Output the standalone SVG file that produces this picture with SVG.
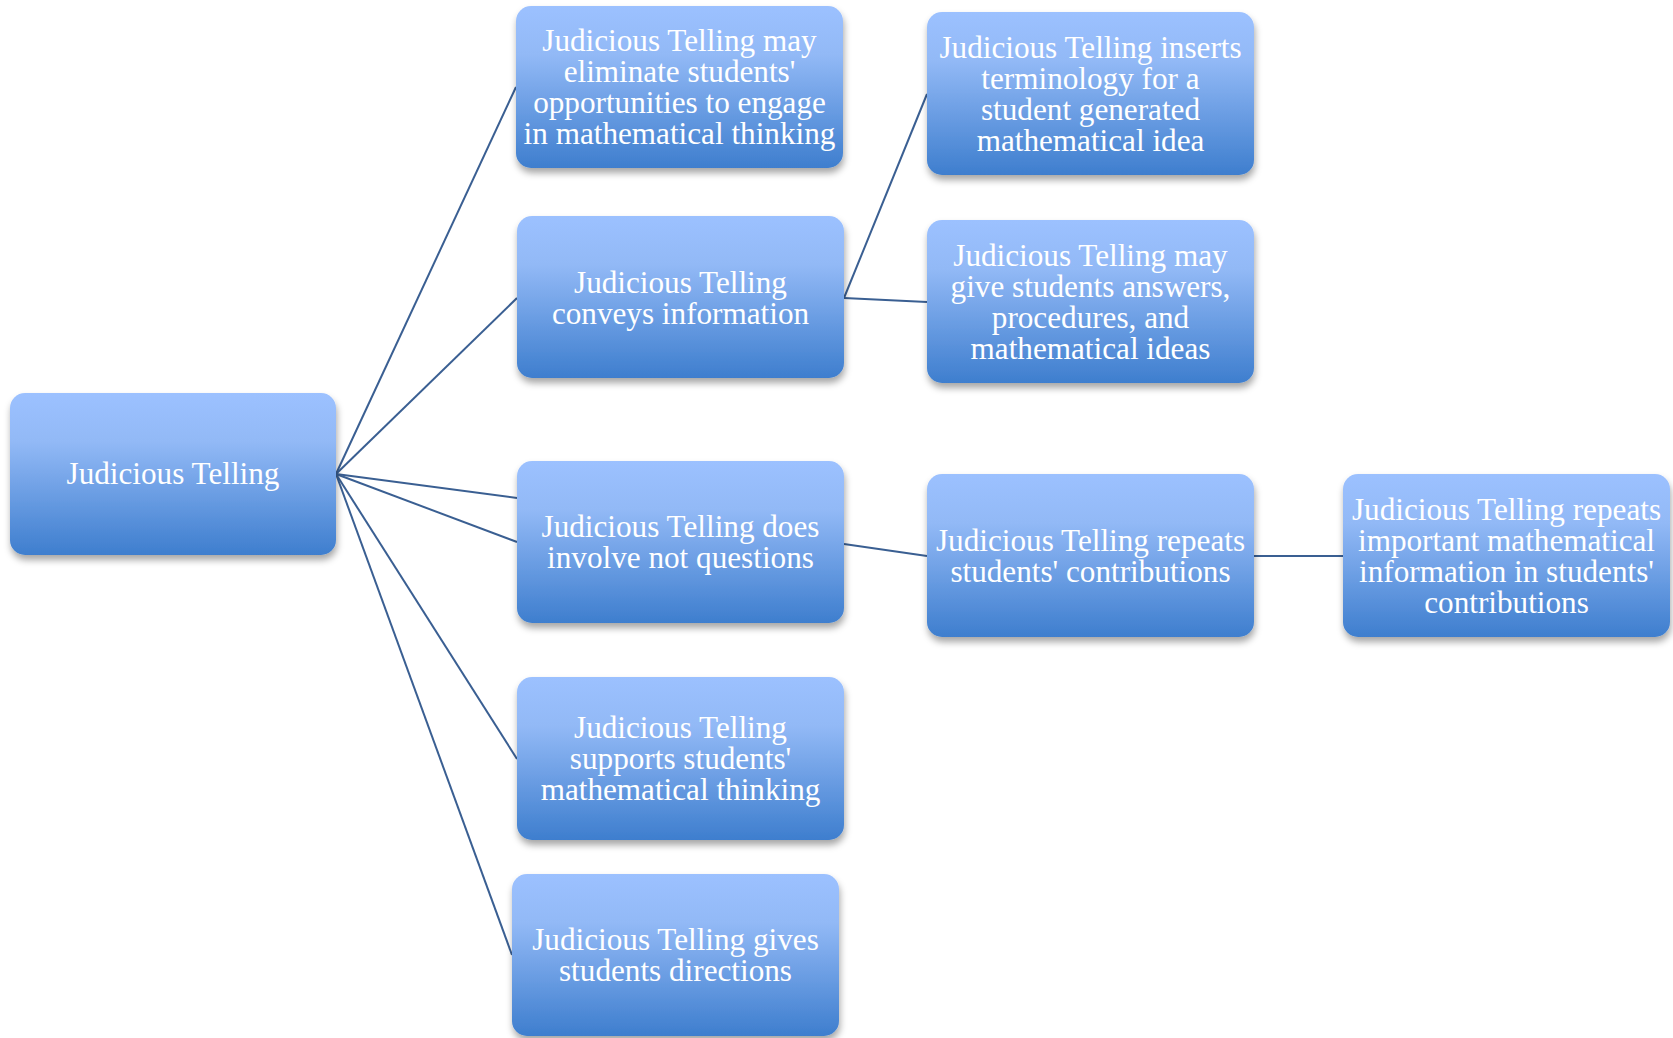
<svg xmlns="http://www.w3.org/2000/svg" width="1673" height="1038" viewBox="0 0 1673 1038">
  <defs>
    <linearGradient id="boxFill" x1="0" y1="0" x2="0" y2="1">
      <stop offset="0" stop-color="#9CC1FF"/>
      <stop offset="0.3" stop-color="#92B9F6"/>
      <stop offset="1" stop-color="#3E7ECE"/>
    </linearGradient>
    <filter id="shadow" x="-10%" y="-10%" width="125%" height="130%">
      <feDropShadow dx="1" dy="5" stdDeviation="3.5" flood-color="#000" flood-opacity="0.35"/>
    </filter>
  </defs>
  <style>
    .box { fill: url(#boxFill); filter: url(#shadow); }
    .label { font-family: "Liberation Serif", "DejaVu Serif", serif; font-size: 31.2px; fill: #FFFFFF; text-anchor: middle; }
    .link { stroke: #3A5F92; stroke-width: 2; fill: none; }
  </style>
  <rect width="1673" height="1038" fill="#FFFFFF"/>

  <!-- connectors -->
  <g id="connectors">
    <line class="link" x1="336" y1="474" x2="516" y2="87"/>
    <line class="link" x1="336" y1="474" x2="517" y2="298"/>
    <line class="link" x1="336" y1="474" x2="517" y2="498"/>
    <line class="link" x1="336" y1="474" x2="517" y2="542"/>
    <line class="link" x1="336" y1="474" x2="517" y2="759"/>
    <line class="link" x1="336" y1="474" x2="512" y2="955"/>
    <line class="link" x1="844" y1="298" x2="927" y2="94"/>
    <line class="link" x1="844" y1="298" x2="927" y2="302"/>
    <line class="link" x1="844" y1="544" x2="927" y2="556"/>
    <line class="link" x1="1254" y1="556" x2="1343" y2="556"/>
  </g>

  <!-- root -->
  <g id="node-root">
    <rect class="box" x="10" y="393" width="326" height="162" rx="15"/>
    <text class="label" x="173" y="484">Judicious Telling</text>
  </g>

  <!-- second level -->
  <g id="node-eliminate">
    <rect class="box" x="516" y="6" width="327" height="162" rx="15"/>
    <text class="label" x="679.5"><tspan x="679.5" y="51">Judicious Telling may</tspan><tspan x="679.5" y="82">eliminate students'</tspan><tspan x="679.5" y="113">opportunities to engage</tspan><tspan x="679.5" y="144">in mathematical thinking</tspan></text>
  </g>
  <g id="node-conveys">
    <rect class="box" x="517" y="216" width="327" height="162" rx="15"/>
    <text class="label"><tspan x="680.5" y="293">Judicious Telling</tspan><tspan x="680.5" y="324">conveys information</tspan></text>
  </g>
  <g id="node-not-questions">
    <rect class="box" x="517" y="461" width="327" height="162" rx="15"/>
    <text class="label"><tspan x="680.5" y="537">Judicious Telling does</tspan><tspan x="680.5" y="568">involve not questions</tspan></text>
  </g>
  <g id="node-supports">
    <rect class="box" x="517" y="677" width="327" height="163" rx="15"/>
    <text class="label"><tspan x="680.5" y="738">Judicious Telling</tspan><tspan x="680.5" y="769">supports students'</tspan><tspan x="680.5" y="800">mathematical thinking</tspan></text>
  </g>
  <g id="node-directions">
    <rect class="box" x="512" y="874" width="327" height="162" rx="15"/>
    <text class="label"><tspan x="675.5" y="950">Judicious Telling gives</tspan><tspan x="675.5" y="981">students directions</tspan></text>
  </g>

  <!-- third level -->
  <g id="node-terminology">
    <rect class="box" x="927" y="12" width="327" height="163" rx="15"/>
    <text class="label"><tspan x="1090.5" y="58">Judicious Telling inserts</tspan><tspan x="1090.5" y="89">terminology for a</tspan><tspan x="1090.5" y="120">student generated</tspan><tspan x="1090.5" y="151">mathematical idea</tspan></text>
  </g>
  <g id="node-answers">
    <rect class="box" x="927" y="220" width="327" height="163" rx="15"/>
    <text class="label"><tspan x="1090.5" y="266">Judicious Telling may</tspan><tspan x="1090.5" y="297">give students answers,</tspan><tspan x="1090.5" y="328">procedures, and</tspan><tspan x="1090.5" y="359">mathematical ideas</tspan></text>
  </g>
  <g id="node-repeats">
    <rect class="box" x="927" y="474" width="327" height="163" rx="15"/>
    <text class="label"><tspan x="1090.5" y="551">Judicious Telling repeats</tspan><tspan x="1090.5" y="582">students' contributions</tspan></text>
  </g>

  <!-- fourth level -->
  <g id="node-repeats-important">
    <rect class="box" x="1343" y="474" width="327" height="163" rx="15"/>
    <text class="label"><tspan x="1506.5" y="520">Judicious Telling repeats</tspan><tspan x="1506.5" y="551">important mathematical</tspan><tspan x="1506.5" y="582">information in students'</tspan><tspan x="1506.5" y="613">contributions</tspan></text>
  </g>
</svg>
